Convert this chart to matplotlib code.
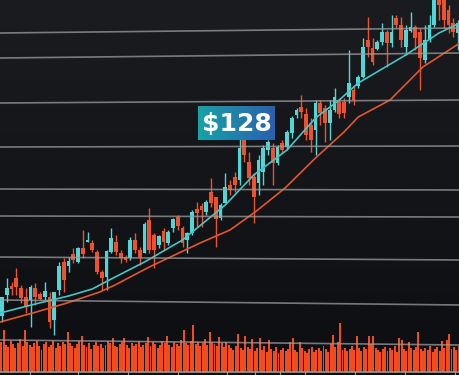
import matplotlib
matplotlib.use("Agg")
import matplotlib.pyplot as plt
import numpy as np

# candles: open, high, low, close (price units)
opens = [42, 52.5, 57, 61, 56, 51.5, 50, 56, 53, 51.5,
         51.5, 40, 55, 69, 67, 73, 69, 76, 79, 78.5,
         74, 64, 61.5, 74, 79, 73.5, 71.5, 71, 80, 75,
         73.5, 90, 82.5, 77.5, 84.5, 78.5, 86, 91.5, 86, 80,
         83.5, 95.5, 97, 94, 104, 101.5, 91, 98.5, 107.5, 111.5,
         110, 130, 119, 111.5, 108.5, 114, 125, 126, 118.5, 128.5,
         126.5, 133.5, 142.5, 146.5, 143, 137.5, 135, 148.5, 146, 138.5,
         145, 149, 149, 151.5, 155, 157, 161.5, 180, 176, 175.5,
         179, 184, 178.5, 191, 187.5, 176.5, 184.5, 186.5, 184, 170,
         180, 187.5, 202.5, 200, 195, 188.5, 183.5]
highs = [51.5, 61, 59, 66, 57.5, 56, 57.5, 58.5, 54, 59,
         54, 54, 69, 71, 71.5, 76, 76.5, 85, 84, 80,
         75, 65, 75, 86, 82.5, 75, 72.5, 81.5, 83.5, 76.5,
         89, 96, 83.5, 82.5, 86, 85, 91, 92.5, 87, 84,
         95, 99, 98.5, 100, 111, 101.5, 98.5, 113.5, 110, 114,
         131, 131, 124, 113.5, 122.5, 127.5, 130, 128.5, 127.5, 130,
         135, 142, 146, 152.5, 146, 141, 150, 150, 147.5, 150,
         156, 150, 151, 175, 157.5, 162.5, 181, 191.5, 181, 180,
         188.5, 185, 192.5, 192.5, 191.5, 187.5, 194, 187.5, 186, 187.5,
         192.5, 202.5, 205, 202.5, 197.5, 191, 190]
lows = [39, 49, 52.5, 52.5, 48.5, 43.5, 36.5, 47.5, 50, 50,
        36, 32.5, 52.5, 54, 64, 68.5, 68.5, 71, 79, 74,
        63, 55, 55, 73.5, 72.5, 68.5, 69, 70, 73.5, 67.5,
        73.5, 73.5, 66, 76, 75, 77.5, 84, 85, 76.5, 73.5,
        82.5, 86.5, 86.5, 92.5, 96.5, 76.5, 90, 98.5, 102.5, 104,
        107.5, 119, 107.5, 88.5, 102.5, 107.5, 122.5, 107.5, 117.5, 123.5,
        125, 131, 141, 141, 130, 124, 122.5, 137.5, 129, 130,
        144, 141, 141, 148.5, 147.5, 156, 161, 171.5, 167.5, 175,
        177.5, 166.5, 176.5, 186, 176.5, 172.5, 184, 175, 155, 168.5,
        179, 186.5, 190, 186, 183.5, 181.5, 175]
closes = [51.5, 56, 55.5, 56.5, 51, 46.5, 56.5, 51.5, 50.5, 54.5,
          39, 54, 67, 60, 69.5, 70, 76, 73, 80, 75,
          64, 61, 74.5, 81, 74, 71, 70, 80, 75, 71.5,
          88, 75, 75, 82, 79, 84, 90.5, 87, 78.5, 83.5,
          94, 93.5, 95, 99, 98.5, 90.5, 97.5, 106.5, 105, 107.5,
          126, 122.5, 111, 101.5, 120, 126, 129, 118.5, 126.5, 125,
          134, 141, 145, 144, 132.5, 130, 148.5, 143.5, 138.5, 145,
          151.5, 143, 143.5, 158.5, 150, 161.5, 176.5, 176.5, 169, 179,
          184, 178.5, 184, 187.5, 180, 185, 186.5, 181, 171, 180,
          187.5, 200, 197.5, 190, 187.5, 184, 188.5]

# moving averages (candle index, price)
ma_fast_x = [-0.4, 7, 14, 19, 23, 30, 38, 47, 53, 60, 66, 71, 75, 85, 92, 96.4]
ma_fast_y = [43.5, 48, 52, 55.5, 60.5, 69, 80, 97.5, 112.5, 125, 141, 150, 158.5, 172.5, 183.5, 188.5]
ma_slow_x = [-0.4, 6.5, 13.7, 20.6, 23.8, 31, 41.7, 48, 53.3, 59.6, 66, 72, 75, 81.7, 88.6, 96.4]
ma_slow_y = [39, 43.5, 48.5, 54, 57.5, 66.5, 78.5, 85, 94, 106, 121, 134, 141.5, 150, 166.5, 178.5]

volume = [30, 42, 27, 25, 31, 28, 24, 29, 33, 26,
          42, 30, 27, 25, 29, 31, 26, 22, 28, 30,
          25, 27, 31, 24, 29, 26, 30, 28, 40, 29,
          26, 24, 28, 31, 36, 27, 25, 29, 23, 27,
          30, 26, 28, 24, 27, 31, 29, 34, 26, 25,
          28, 30, 34, 27, 24, 29, 26, 28, 31, 25,
          27, 29, 35, 26, 30, 28, 24, 27, 31, 29,
          36, 27, 25, 30, 28, 26, 32, 42, 29, 27,
          31, 47, 28, 30, 26, 29, 33, 27, 40, 30,
          28, 26, 35, 29, 25, 30, 27, 24, 22, 26,
          38, 24, 22, 36, 25, 23, 33, 21, 24, 34,
          22, 26, 20, 32, 23, 21, 25, 19, 22, 24,
          21, 23, 30, 34, 22, 20, 30, 24, 21, 19,
          23, 25, 20, 22, 24, 21, 26, 23, 20, 28,
          37, 25, 30, 49, 22, 24, 21, 23, 26, 22,
          36, 24, 21, 25, 23, 36, 28, 36, 24, 22,
          20, 23, 25, 21, 24, 22, 26, 20, 34, 32,
          23, 21, 30, 24, 22, 25, 40, 23, 21, 24,
          22, 26, 20, 23, 25, 21, 31, 24, 32, 38,
          23, 25, 22, 26]

label = "$128"

UP = "#4fd6d6"
DOWN = "#f0502a"
GRID = "#9a9c9e"

W, H = 460, 375
fig = plt.figure(figsize=(W / 100, H / 100), dpi=100)

# background gradient
bg = fig.add_axes([0, 0, 1, 1])
bg.axis("off")
grad = np.linspace(0, 1, 256).reshape(-1, 1)
bg.imshow(grad, aspect="auto", extent=[0, 1, 0, 1], origin="lower",
          cmap=matplotlib.colors.LinearSegmentedColormap.from_list("bgc", ["#0d0e11", "#1b1c20"]))
bg.set_xlim(0, 1)
bg.set_ylim(0, 1)

# volume
axv = fig.add_axes([0, 3 / H, 1, 75 / H])
axv.set_facecolor("none")
axv.axis("off")
vx = np.arange(len(volume))
axv.bar(vx, volume, width=0.82, color="#f44b1c", linewidth=0)
axv.set_xlim(-1.2 / 2.37, (W - 1.2) / 2.37)
axv.set_ylim(0, 75)

# candles
ax = fig.add_axes([0, 0, 1, 1])
ax.set_facecolor("none")
ax.axis("off")
for i in range(len(opens)):
    o, h, l, c = opens[i], highs[i], lows[i], closes[i]
    col = UP if c >= o else DOWN
    ax.vlines(i, l, h, color=col, lw=1.0, zorder=3)
    ax.bar(i, max(abs(c - o), 0.8), bottom=min(o, c), width=0.75,
           color=col, linewidth=0, zorder=4)
ax.plot(ma_slow_x, ma_slow_y, color="#e2562e", lw=1.2, zorder=5)
ax.plot(ma_fast_x, ma_fast_y, color="#45c6c6", lw=1.2, zorder=5)
ax.set_xlim(-2 / 4.75, (W - 2) / 4.75)
ax.set_ylim(12.5, 200)

# horizontal lines, slightly tilted
ov = fig.add_axes([0, 0, 1, 1], zorder=10)
ov.set_facecolor("none")
ov.axis("off")
ov.set_xlim(0, W)
ov.set_ylim(H, 0)
for yl, yr in [(33, 28), (58, 53), (103, 100), (147, 146), (189, 190),
               (216, 217), (257, 260), (300, 305), (340, 345)]:
    ov.plot([0, W], [yl, yr], color=GRID, lw=1.2, alpha=0.75)
ov.plot([0, W], [372, 372], color=GRID, lw=1.5, alpha=0.8)
for tx in [30, 78, 128, 178, 227, 255, 280, 305, 355, 405, 455]:
    ov.plot([tx, tx], [372, 375], color=GRID, lw=0.8)

# price tag
tag = fig.add_axes([198 / W, 1 - 140 / H, 77 / W, 34 / H], zorder=11)
tag.axis("off")
tgrad = np.linspace(0, 1, 256).reshape(1, -1)
tag.imshow(tgrad, aspect="auto", extent=[0, 1, 0, 1],
           cmap=matplotlib.colors.LinearSegmentedColormap.from_list("tg", ["#17a3a6", "#2b5fae"]))
tag.set_xlim(0, 1)
tag.set_ylim(0, 1)
tag.text(0.5, 0.47, label, color="white", fontsize=18, fontweight="bold",
         ha="center", va="center")

fig.savefig("out.png", dpi=100)
